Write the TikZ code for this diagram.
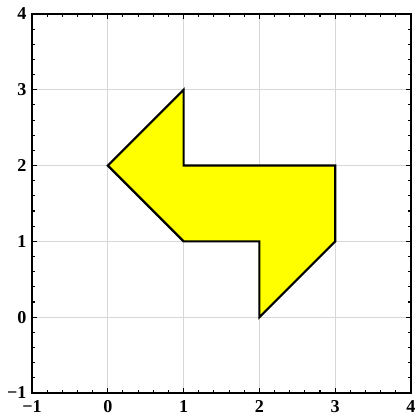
\documentclass[tikz,border=0pt]{standalone}
\usepackage{fontspec}
\setmainfont{Liberation Serif}
\usepackage{xcolor}
\usepackage{tikz}
\definecolor{cgridline}{RGB}{215, 215, 215}
\definecolor{cyellow}{RGB}{255, 255, 0}
\tikzset{
  ticklabel/.style={font=\fontsize{6.8}{8}\selectfont\bfseries, inner sep=0pt},
  axisframe/.style={line width=0.55pt, black},
  shapeedge/.style={line width=0.8pt, black, fill=cyellow, line join=miter}
}

\begin{document}
\begin{tikzpicture}
  \useasboundingbox (-1.422,-1.276) rectangle (4.066,4.184);
  % grid
  \foreach \v in {0,...,3} {
    \draw[cgridline, line width=0.35pt] (\v,-1) -- (\v,4);
    \draw[cgridline, line width=0.35pt] (-1,\v) -- (4,\v);
  }
  % polygon
  \filldraw[shapeedge] (0,2) -- (1,3) -- (1,2) -- (3,2) -- (3,1) -- (2,0) -- (2,1) -- (1,1) -- cycle;
  % ticks
  \foreach \t in {-1,-0.8,...,4.01} {
    \draw[line width=0.4pt] (\t,-1) -- ++(0,0.035);
    \draw[line width=0.4pt] (\t,4) -- ++(0,-0.035);
    \draw[line width=0.4pt] (-1,\t) -- ++(0.035,0);
    \draw[line width=0.4pt] (4,\t) -- ++(-0.035,0);
  }
  \foreach \t in {-1,...,4} {
    \draw[line width=0.45pt] (\t,-1) -- ++(0,0.065);
    \draw[line width=0.45pt] (\t,4) -- ++(0,-0.065);
    \draw[line width=0.45pt] (-1,\t) -- ++(0.065,0);
    \draw[line width=0.45pt] (4,\t) -- ++(-0.065,0);
  }
  \draw[axisframe] (-1,-1) rectangle (4,4);
  % labels
  \node[ticklabel, anchor=east] (ylab-1) at (-1.065,-1) {−1};
  \node[ticklabel, anchor=north] (xlab-1) at (-1,-1.09) {−1};
  \foreach \t in {0,...,4} {
    \node[ticklabel, anchor=east] (ylab\t) at (-1.065,\t) {\t};
    \node[ticklabel, anchor=north] (xlab\t) at (\t,-1.09) {\t};
  }
\end{tikzpicture}
\end{document}
